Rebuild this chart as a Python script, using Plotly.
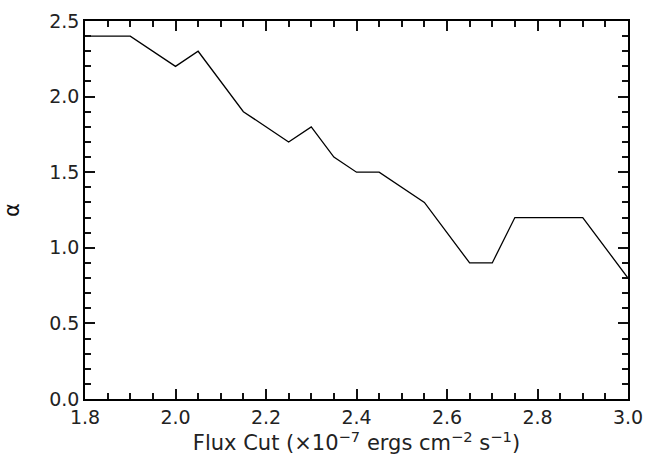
import plotly.graph_objects as go

flux_cut = [1.8, 1.9, 2.0, 2.05, 2.15, 2.25, 2.3, 2.35, 2.4, 2.45, 2.55, 2.65, 2.7, 2.75, 2.9, 3.0]
alpha = [2.4, 2.4, 2.2, 2.3, 1.9, 1.7, 1.8, 1.6, 1.5, 1.5, 1.3, 0.9, 0.9, 1.2, 1.2, 0.8]

x_range = [1.8, 3.0]
y_range = [0, 2.5]

fig = go.Figure()
fig.add_trace(go.Scatter(x=flux_cut, y=alpha, mode="lines",
                         line=dict(color="black", width=1.3), showlegend=False, hoverinfo="skip"))

tick_font = dict(family="DejaVu Sans, Liberation Sans, sans-serif", size=19, color="#222")
title_font = dict(family="DejaVu Sans, Liberation Sans, sans-serif", size=21, color="#222")

axis_common = dict(
    showgrid=False, zeroline=False, showline=True, linecolor="black", linewidth=1.5,
    mirror="allticks", ticks="inside", ticklen=10, tickwidth=1.6, tickcolor="#111",
    tickfont=tick_font,
)

fig.update_layout(
    width=653, height=466, margin=dict(l=85, r=20, t=10, b=67),
    plot_bgcolor="white", paper_bgcolor="white",
    xaxis=dict(range=x_range, dtick=0.2, tick0=1.8, tickformat=".1f",
               minor=dict(dtick=0.05, tick0=1.8, ticks="inside", ticklen=6, tickwidth=1.6, tickcolor="#111"),
               title=dict(text="Flux Cut (×10<sup>−7</sup> ergs cm<sup>−2</sup> s<sup>−1</sup>)",
                          font=title_font, standoff=1),
               **axis_common),
    yaxis=dict(range=y_range, dtick=0.5, tick0=0, tickformat=".1f",
               minor=dict(dtick=0.1, tick0=0, ticks="inside", ticklen=6, tickwidth=1.6, tickcolor="#111"),
               title=dict(text="α", font=dict(family="DejaVu Sans, sans-serif", size=21, color="#111"),
                          standoff=24),
               **axis_common),
)
fig.write_html("out.html")
